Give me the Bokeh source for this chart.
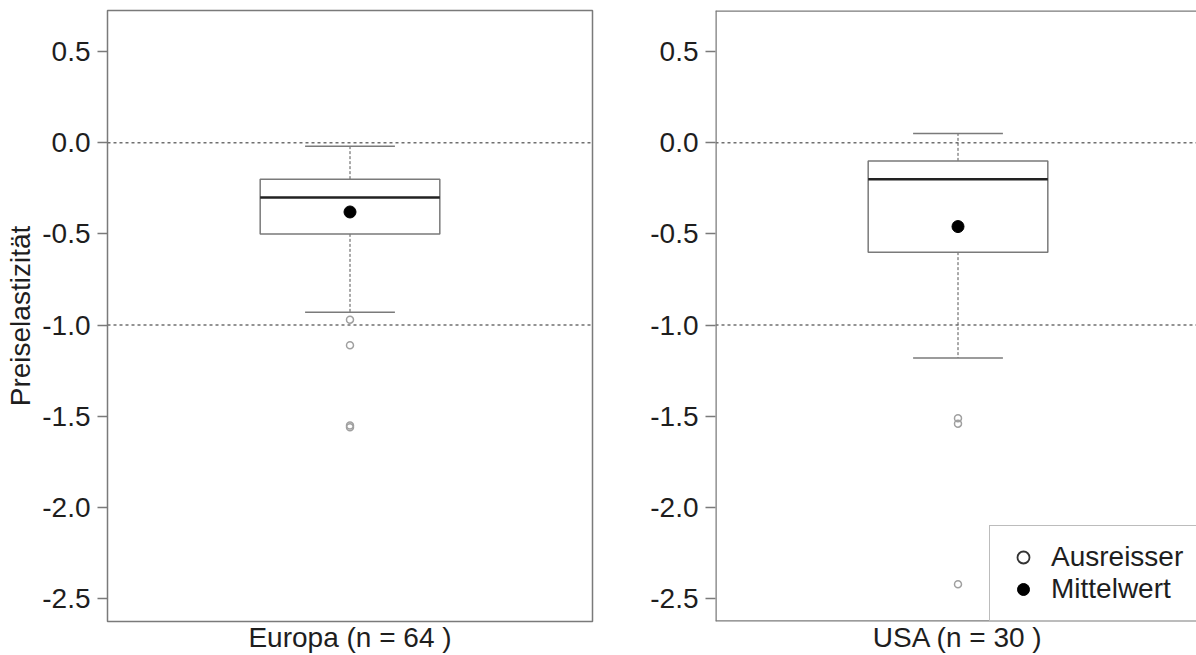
from bokeh.plotting import figure
from bokeh.layouts import row
from bokeh.models import Span, FixedTicker, PrintfTickFormatter, Legend, LegendItem
from bokeh.embed import file_html
from bokeh.resources import INLINE

# ---------------- data ----------------
groups = ["Europa (n = 64 )", "USA (n = 30 )"]
q1 = [-0.50, -0.60]
median = [-0.30, -0.20]
q3 = [-0.20, -0.10]
whisker_low = [-0.93, -1.18]
whisker_high = [-0.02, 0.05]
means = [-0.38, -0.46]
outliers_europa = [-0.97, -1.11, -1.55, -1.56]
outliers_usa = [-1.51, -1.54, -2.42]
y_ticks = [0.5, 0.0, -0.5, -1.0, -1.5, -2.0, -2.5]
ref_lines = [0.0, -1.0]
y_label = "Preiselastizität"
legend_labels = ["Ausreisser", "Mittelwert"]

outliers = [outliers_europa, outliers_usa]

FONT = "Liberation Sans"
GRAY = "#7a7a7a"
BOXW = 0.2   # half box width (boxwex 0.4)
CAPW = 0.1   # half staple width
Y0, Y1 = -2.624, 0.724
X0 = 0.46
PX_PER_UNIT = 485 / 1.08
HEIGHT = 655


def panel(i, width, min_left, min_right, x_end, with_ylabel, with_legend):
    p = figure(width=width, height=HEIGHT, x_range=(X0, x_end), y_range=(Y0, Y1),
               output_backend="svg", toolbar_location=None,
               min_border_top=10, min_border_bottom=0,
               min_border_left=min_left, min_border_right=min_right)
    p.grid.visible = False
    p.background_fill_color = "white"
    p.border_fill_color = "white"

    if with_legend:
        # open frame on the right (panel is cut at the picture edge)
        p.outline_line_color = None
        for loc in (Y1, Y0):
            p.add_layout(Span(location=loc, dimension="width", line_color=GRAY, line_width=2.5))
        p.add_layout(Span(location=X0, dimension="height", line_color=GRAY, line_width=2.5))
    else:
        p.outline_line_color = GRAY
        p.outline_line_width = 1.5

    for r in ref_lines:
        p.add_layout(Span(location=r, dimension="width", line_color="#707070",
                          line_width=1.5, line_dash="3 3", level="underlay"))

    pos = 1.0
    # whiskers
    p.segment(x0=[pos, pos], y0=[q3[i], q1[i]], x1=[pos, pos],
              y1=[whisker_high[i], whisker_low[i]],
              line_color="#555555", line_width=1, line_dash="3 2")
    # staples
    p.segment(x0=[pos - CAPW] * 2, x1=[pos + CAPW] * 2,
              y0=[whisker_high[i], whisker_low[i]], y1=[whisker_high[i], whisker_low[i]],
              line_color=GRAY, line_width=1.5)
    # box
    p.quad(left=[pos - BOXW], right=[pos + BOXW], bottom=[q1[i]], top=[q3[i]],
           fill_color="white", line_color=GRAY, line_width=1.5)
    # median
    p.segment(x0=[pos - BOXW], x1=[pos + BOXW], y0=[median[i]], y1=[median[i]],
              line_color="#222222", line_width=2.5)
    # outliers
    p.scatter(x=[pos] * len(outliers[i]), y=outliers[i], marker="circle", size=7,
              fill_color=None, line_color="#a0a0a0", line_width=1.5)
    # mean
    p.scatter(x=[pos], y=[means[i]], marker="circle", size=12,
              fill_color="black", line_color="black")

    # y axis
    ya = p.yaxis[0]
    ya.ticker = FixedTicker(ticks=y_ticks)
    ya.formatter = PrintfTickFormatter(format="%.1f")
    ya.axis_line_color = None
    ya.major_tick_line_color = GRAY
    ya.major_tick_line_width = 1.5
    ya.major_tick_out = 10
    ya.major_tick_in = 0
    ya.minor_tick_line_color = None
    ya.major_label_standoff = 7
    ya.major_label_text_font = FONT
    ya.major_label_text_font_size = "28px"
    ya.major_label_text_color = "#1e1e1e"
    if with_ylabel:
        ya.axis_label = y_label
        ya.axis_label_text_font = FONT
        ya.axis_label_text_font_size = "28px"
        ya.axis_label_text_font_style = "normal"
        ya.axis_label_text_color = "#1e1e1e"
        ya.axis_label_standoff = 3

    # x axis: only the group name under the box
    xa = p.xaxis[0]
    xa.ticker = FixedTicker(ticks=[pos])
    xa.major_label_overrides = {1: groups[i]}
    xa.axis_line_color = None
    xa.major_tick_line_color = None
    xa.minor_tick_line_color = None
    xa.major_label_standoff = -6
    xa.major_label_text_font = FONT
    xa.major_label_text_font_size = "28px"
    xa.major_label_text_color = "#1e1e1e"

    if with_legend:
        r_out = p.scatter(x=[float("nan")], y=[float("nan")], marker="circle", size=11,
                          fill_color=None, line_color="#333333", line_width=1.8)
        r_mean = p.scatter(x=[float("nan")], y=[float("nan")], marker="circle", size=12,
                           fill_color="black", line_color="black")
        leg = Legend(items=[LegendItem(label=legend_labels[0], renderers=[r_out]),
                            LegendItem(label=legend_labels[1], renderers=[r_mean])],
                     location=(274, 0), margin=0, padding=15, spacing=0,
                     glyph_width=36, glyph_height=30, label_height=30,
                     label_standoff=10,
                     label_text_font=FONT, label_text_font_size="28px",
                     label_text_color="#1e1e1e",
                     border_line_color=GRAY, border_line_width=1.5,
                     background_fill_color="white", background_fill_alpha=1.0)
        p.add_layout(leg)
    return p


left = panel(0, 608, 107, 16, 1.54, True, False)
right_w = 1196 - 608
right_frame_w = right_w - 107
right = panel(1, right_w, 107, 0, X0 + right_frame_w / PX_PER_UNIT, False, True)

layout = row(left, right)
open("out.html", "w").write(file_html(layout, INLINE))
